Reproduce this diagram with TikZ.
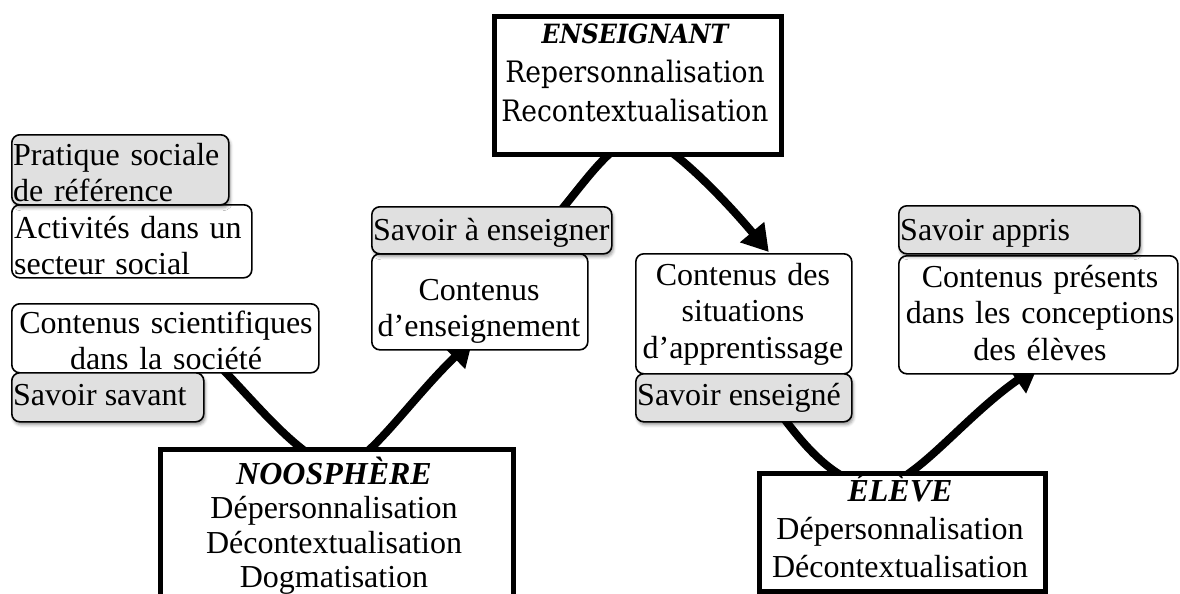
\documentclass[tikz,border=0pt]{standalone}
\usepackage{fontspec}
\setmainfont{Liberation Serif}
\newfontfamily\headfont{DejaVu Serif Condensed}
\usetikzlibrary{arrows.meta,shadows.blur}

\definecolor{tagfill}{RGB}{224,224,224}
\pgfdeclarelayer{flows}
\pgfsetlayers{flows,main}

\begin{document}
\begin{tikzpicture}[x=1pt,y=-1pt,
  box/.style={draw=black, line width=1.6pt, rounded corners=8pt, fill=white,
              inner sep=0pt, anchor=north west},
  tag/.style={box, fill=tagfill,
              blur shadow={shadow xshift=1.5pt, shadow yshift=-3pt,
                           shadow blur radius=3pt, shadow opacity=40}},
  actor/.style={draw=black, line width=5pt, fill=white, inner sep=0pt,
                anchor=north west},
  txt/.style={inner sep=0pt, font=\fontsize{32}{36.5}\selectfont},
  flow/.style={line width=8pt, -{Triangle[length=26pt,width=30pt]}},
]
\useasboundingbox (0,0) rectangle (1180,594);
\clip (0,0) rectangle (1180,594);

% ---- content frames ----
\path
  (11,303)  node[box, minimum width=307pt, minimum height=69pt]  (sci)  {}
  (371,253) node[box, minimum width=216pt, minimum height=96pt]  (ensc) {}
  (635,253) node[box, minimum width=216pt, minimum height=120pt] (sit)  {}
  (898,255) node[box, minimum width=279pt, minimum height=118pt] (pres) {}
  (11,204)  node[box, minimum width=240pt, minimum height=73pt]  (act)  {};

% ---- the three actors ----
\path
  (491.5,14.5)  node[actor, minimum width=287pt, minimum height=137pt] (ens) {}
  (157.5,446.5) node[actor, minimum width=353pt, minimum height=180pt] (noo) {}
  (756.5,470.5) node[actor, minimum width=286pt, minimum height=118pt] (ele) {};

% ---- grey labels ----
\path
  (11,134)  node[tag, minimum width=217pt, minimum height=70pt] (prat) {}
  (11,372)  node[tag, minimum width=192pt, minimum height=49pt] (sav)  {}
  (371,206) node[tag, minimum width=240pt, minimum height=47pt] (sae)  {}
  (635,373) node[tag, minimum width=216pt, minimum height=48pt] (sen)  {}
  (898,205) node[tag, minimum width=241pt, minimum height=48pt] (sap)  {};

% ---- turning points hidden inside the actors ----
\coordinate (nooA) at ([xshift=-4pt,yshift=-21pt]noo.north);
\coordinate (ensB) at ([xshift=2pt,yshift=19pt]ens.south);
\coordinate (eleC) at ([xshift=-29.5pt,yshift=-17pt]ele.north);

% ---- transposition flows, behind every frame ----
\begin{pgfonlayer}{flows}
\draw[flow] ([xshift=40pt,yshift=22pt]sci.south)
   .. controls (250,395) and (290,450) .. (nooA)
   .. controls (360,476) and (405,405) .. ([xshift=-7pt,yshift=11pt]ensc.south);
\draw[flow] ([xshift=59pt,yshift=-16pt]sae.north)
   .. controls (580,190) and (610,140) .. (ensB)
   .. controls (657,132) and (715,188) .. ([xshift=25pt,yshift=1pt]sit.north);
\draw[flow] ([xshift=35pt,yshift=11pt]sen.south)
   .. controls (800,440) and (830,480) .. (eleC)
   .. controls (910,490) and (960,420) .. ([xshift=0pt,yshift=9pt]pres.south);
\end{pgfonlayer}

% ---- texts ----
\node[txt, anchor=base west, text width=215pt, align=left] at (13,165)
  {\makebox[213pt][s]{Pratique sociale}\\de référence};
\node[txt, anchor=base west, text width=238pt, align=left] at (14,238)
  {Activités dans un\\secteur social};
\node[txt, anchor=base, text width=307pt, align=center] at (166,333)
  {Contenus scientifiques\\dans la société};
\node[txt, anchor=base west] at (13,405) {Savoir savant};
\node[txt, anchor=base west] at (373,240) {Savoir à enseigner};
\node[txt, anchor=base, text width=216pt, align=center] at (479,300)
  {Contenus\\d’enseignement};
\node[txt, anchor=base, text width=216pt, align=center] at (743,285)
  {Contenus des\\situations\\d’apprentissage};
\node[txt, anchor=base west] at (637,405) {Savoir enseigné};
\node[txt, anchor=base west] at (900,240) {Savoir appris};
\node[txt, anchor=base, text width=279pt, align=center] at (1040,287)
  {Contenus présents\\dans les conceptions\\des élèves};

\node[txt, anchor=base, text width=287pt, align=center,
      font=\headfont\fontsize{29.5}{39}\selectfont] at (635,44)
  {{\fontsize{26.5}{39}\selectfont\bfseries\itshape ENSEIGNANT}\\Repersonnalisation\\Recontextualisation};
\node[txt, anchor=base, text width=353pt, align=center,
      font=\fontsize{32}{34.5}\selectfont] at (334,484)
  {{\bfseries\itshape NOOSPHÈRE}\\Dépersonnalisation\\Décontextualisation\\Dogmatisation};
\node[txt, anchor=base, text width=286pt, align=center,
      font=\fontsize{32}{38}\selectfont] at (900,501)
  {{\bfseries\itshape ÉLÈVE}\\Dépersonnalisation\\Décontextualisation};
\end{tikzpicture}
\end{document}
